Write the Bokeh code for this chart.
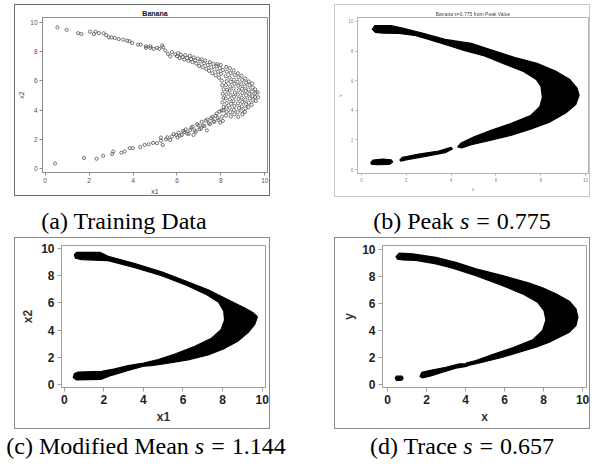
from bokeh.plotting import figure
from bokeh.layouts import row, column
from bokeh.models import Div, Range1d, FixedTicker
from bokeh.embed import file_html
from bokeh.resources import INLINE

TICKS = [0, 2, 4, 6, 8, 10]

# ---- (a) banana training sample --------------------------------------------
upper_x1 = [0.56, 0.98, 1.50, 1.65, 2.04, 2.22, 2.29, 2.45, 2.66, 2.78, 2.90, 3.02,
            3.17, 3.35, 3.55, 3.73, 3.84, 3.96, 4.23, 4.35, 4.59, 4.59, 4.79, 4.79,
            4.94, 5.09, 5.19, 5.32, 5.36, 5.47, 5.59, 5.69, 5.77, 5.92,
            6.00, 6.05, 6.12, 6.18, 6.26, 6.33, 6.38, 6.46, 6.52, 6.58, 6.64, 6.70,
            6.76, 6.83, 6.88, 6.95, 7.01, 7.06, 7.12, 7.17, 7.23, 7.29, 7.33, 7.40,
            7.46, 7.50, 7.56, 7.61, 7.66, 7.71, 7.76, 7.80, 7.84, 7.87, 7.91, 7.95,
            7.99, 8.01, 8.04, 8.06]
upper_x2 = [9.64, 9.48, 9.25, 9.19, 9.35, 9.19, 9.35, 9.26, 9.24, 9.12, 8.96, 8.96,
            8.92, 8.85, 8.81, 8.74, 8.70, 8.58, 8.47, 8.47, 8.36, 8.25, 8.36, 8.25,
            8.18, 8.25, 8.18, 8.41, 8.29, 8.07, 7.84, 7.67, 7.96, 7.80,
            7.68, 7.88, 7.55, 7.78, 7.62, 7.45, 7.76, 7.55, 7.36, 7.70, 7.48, 7.28,
            7.60, 7.40, 7.18, 7.52, 7.02, 7.33, 7.47, 6.92, 7.20, 7.38, 6.82, 7.08,
            6.68, 7.28, 6.93, 6.52, 7.16, 6.78, 6.38, 7.02, 7.14, 6.62, 6.22, 6.88,
            7.08, 6.47, 6.02, 5.70]

tip_x1 = [8.09, 8.12, 8.08, 8.11, 8.07, 8.13, 8.10,
          8.24, 8.27, 8.22, 8.26, 8.23, 8.28, 8.25, 8.22, 8.27, 8.24, 8.26, 8.23,
          8.41, 8.44, 8.40, 8.45, 8.42, 8.39, 8.44, 8.41, 8.46, 8.40, 8.43, 8.45,
          8.58, 8.62, 8.59, 8.61, 8.57, 8.63, 8.60, 8.58, 8.62, 8.59, 8.61,
          8.77, 8.80, 8.76, 8.79, 8.81, 8.77, 8.80, 8.78, 8.82, 8.76, 8.79,
          8.94, 8.97, 8.93, 8.96, 8.98, 8.94, 8.97, 8.95, 8.93, 8.98,
          9.11, 9.14, 9.10, 9.13, 9.15, 9.11, 9.14, 9.12, 9.09,
          9.27, 9.30, 9.26, 9.29, 9.31, 9.27, 9.25,
          9.42, 9.45, 9.41, 9.44, 9.46, 9.40,
          9.56, 9.58, 9.55, 9.59,
          9.67, 9.69]
tip_x2 = [6.74, 5.42, 5.12, 4.83, 4.52, 4.21, 3.98,
          6.95, 6.62, 6.31, 5.98, 5.71, 5.39, 5.08, 4.79, 4.48, 4.18, 3.88, 3.63,
          6.86, 6.53, 6.22, 5.93, 5.62, 5.33, 5.04, 4.74, 4.44, 4.16, 3.86, 3.57,
          6.71, 6.41, 6.08, 5.79, 5.48, 5.19, 4.91, 4.61, 4.29, 4.01, 3.72,
          6.52, 6.24, 5.94, 5.66, 5.36, 5.06, 4.76, 4.46, 4.16, 3.86, 3.55,
          6.36, 6.06, 5.77, 5.46, 5.16, 4.86, 4.56, 4.26, 3.96, 3.71,
          6.16, 5.89, 5.61, 5.31, 5.01, 4.71, 4.41, 4.11, 3.88,
          5.96, 5.71, 5.41, 5.11, 4.81, 4.51, 4.21,
          5.81, 5.54, 5.26, 4.96, 4.66, 4.37,
          5.42, 5.18, 4.91, 4.62,
          5.21, 4.88]

lower_x1 = [0.45, 1.77, 2.34, 2.64, 3.05, 3.10, 3.47, 3.62, 3.85, 3.99, 4.33, 4.53,
            4.71, 4.91, 5.09, 5.27, 5.27, 5.35, 5.50, 5.56, 5.69, 5.77, 5.85,
            5.97, 6.02, 6.07, 6.13, 6.22, 6.28, 6.34, 6.40, 6.46, 6.53, 6.60, 6.65,
            6.72, 6.75, 6.81, 6.86, 6.92, 6.98, 7.03, 7.10, 7.13, 7.19, 7.25, 7.31,
            7.36, 7.39, 7.45, 7.51, 7.55, 7.61, 7.66, 7.70, 7.75, 7.81, 7.85, 7.89,
            7.93, 7.97, 8.02, 8.05, 8.09]
lower_x2 = [0.36, 0.74, 0.69, 0.89, 1.01, 1.18, 1.10, 1.18, 1.41, 1.41, 1.48, 1.63,
            1.68, 1.77, 1.75, 2.13, 1.92, 1.63, 2.02, 2.15, 1.97, 2.20, 2.37,
            2.31, 2.15, 2.47, 2.26, 2.31, 2.58, 2.52, 2.69, 2.41, 2.38, 2.65, 2.81,
            2.87, 2.31, 2.60, 2.53, 3.04, 2.97, 2.70, 2.76, 3.21, 2.95, 2.91, 3.29,
            2.62, 3.36, 3.10, 3.05, 3.45, 3.54, 3.26, 3.20, 3.62, 3.77, 3.46, 3.33,
            3.90, 3.15, 3.98, 3.56, 3.27]

train_x1 = upper_x1 + tip_x1 + lower_x1
train_x2 = upper_x2 + tip_x2 + lower_x2

# ---- (b) peak-bandwidth level set: outlines of the filled regions -----------
peak_main_x = [0.48, 0.59, 1.32, 1.83, 2.71, 3.73, 4.90, 5.78, 6.95, 7.83, 8.71, 9.30,
               9.62, 9.71, 9.56, 9.15, 8.42, 7.54, 6.66, 5.78, 4.90, 4.47, 4.29, 4.44,
               5.05, 5.78, 6.66, 7.54, 7.95, 8.07, 8.01, 7.80, 7.25, 6.37, 5.49, 4.61,
               3.73, 3.00, 2.42, 1.68, 0.95, 0.63]
peak_main_y = [9.47, 9.72, 9.72, 9.56, 9.22, 8.79, 8.52, 8.09, 7.52, 7.18, 6.61, 6.08,
               5.49, 5.02, 4.39, 3.86, 3.22, 2.73, 2.31, 1.99, 1.67, 1.46, 1.53, 1.78,
               2.22, 2.65, 3.11, 3.64, 4.22, 4.85, 5.61, 6.08, 6.61, 7.14, 7.67, 8.03,
               8.45, 8.79, 9.05, 9.19, 9.22, 9.26]
peak_mid_x = [1.71, 1.83, 2.56, 3.44, 4.00, 4.06, 3.73, 2.86, 1.98, 1.76]
peak_mid_y = [0.64, 0.83, 1.04, 1.25, 1.50, 1.38, 1.14, 0.89, 0.64, 0.57]
peak_end_x = [0.41, 0.51, 0.95, 1.32, 1.39, 1.24, 0.66, 0.44]
peak_end_y = [0.47, 0.64, 0.70, 0.66, 0.51, 0.34, 0.32, 0.36]

# ---- (c) modified-mean level set -----------------------------------------
mean_x = [0.51, 0.62, 1.80, 2.22, 3.57, 4.92, 6.01, 7.27, 8.28, 9.12, 9.55, 9.76,
          9.63, 9.29, 8.79, 8.11, 7.27, 6.26, 5.25, 4.41, 4.01, 3.23, 2.39, 1.85,
          0.62, 0.45, 0.51, 0.71, 1.89, 2.56, 3.23, 4.01, 4.75, 5.59, 6.60, 7.44,
          7.92, 8.10, 8.06, 7.80, 7.20, 6.20, 4.92, 3.57, 2.22, 0.88, 0.57]
mean_y = [9.56, 9.73, 9.73, 9.44, 8.91, 8.30, 7.69, 6.97, 6.24, 5.63, 5.27, 4.98,
          4.42, 3.81, 3.20, 2.65, 2.16, 1.80, 1.55, 1.38, 1.33, 1.02, 0.66, 0.36,
          0.32, 0.49, 0.78, 0.90, 0.95, 1.14, 1.38, 1.57, 1.82, 2.22, 2.80, 3.40,
          4.02, 4.72, 5.39, 6.05, 6.60, 7.30, 8.02, 8.60, 9.12, 9.20, 9.30]

# ---- (d) trace level set --------------------------------------------------
trace_main_x = [0.43, 0.60, 1.28, 2.48, 3.50, 4.53, 5.90, 7.26, 7.95, 8.63, 9.32, 9.66,
                9.76, 9.66, 9.32, 8.80, 8.29, 7.61, 6.75, 5.90, 4.87, 4.15, 4.02, 4.53,
                5.38, 6.41, 7.44, 7.95, 8.12, 8.02, 7.69, 6.92, 5.90, 4.53, 3.33, 2.48,
                1.45, 0.77, 0.51]
trace_main_y = [9.48, 9.73, 9.68, 9.43, 9.06, 8.57, 8.07, 7.51, 7.16, 6.72, 6.17, 5.60,
                4.99, 4.37, 3.88, 3.51, 3.14, 2.77, 2.40, 2.02, 1.65, 1.41, 1.58, 1.78,
                2.22, 2.72, 3.31, 4.00, 4.79, 5.48, 6.10, 6.72, 7.33, 8.07, 8.62, 8.94,
                9.19, 9.23, 9.28]
trace_mid_x = [1.66, 1.76, 2.14, 2.99, 3.68, 4.05, 4.10, 3.50, 2.82, 2.22, 1.79]
trace_mid_y = [0.59, 0.91, 1.04, 1.28, 1.53, 1.53, 1.36, 1.21, 0.91, 0.64, 0.49]
trace_end_x = [0.39, 0.46, 0.74, 0.80, 0.70, 0.46]
trace_end_y = [0.47, 0.62, 0.62, 0.44, 0.30, 0.30]

EQ = '<span style="margin:0 7px;">=</span>'
captions = ["(a) Training Data", f"(b) Peak <i>s</i>{EQ}0.775",
            f"(c) Modified Mean <i>s</i>{EQ}1.144", f"(d) Trace <i>s</i>{EQ}0.657"]


def panel(w, h, xr, yr, border, outer_css, frame_color, tick_px, tick_style, tick_color,
          lab_px, lab_style, lab_color, xlabel, ylabel, tick_len, standoff, lab_standoff,
          margin):
    left, right, top, bottom = border
    p = figure(width=w, height=h, x_range=Range1d(*xr), y_range=Range1d(*yr),
               output_backend="svg", toolbar_location=None,
               min_border_left=left, min_border_right=right,
               min_border_top=top, min_border_bottom=bottom,
               styles=outer_css, margin=margin)
    p.grid.visible = False
    p.outline_line_color = frame_color
    p.outline_line_width = 1
    for ax, lab in ((p.xaxis[0], xlabel), (p.yaxis[0], ylabel)):
        ax.ticker = FixedTicker(ticks=TICKS)
        ax.axis_line_color = frame_color
        ax.major_tick_line_color = frame_color
        ax.major_tick_in = 0
        ax.major_tick_out = tick_len
        ax.minor_tick_line_color = None
        ax.major_label_standoff = standoff
        ax.major_label_text_font = "Liberation Sans"
        ax.major_label_text_font_size = f"{tick_px}px"
        ax.major_label_text_font_style = tick_style
        ax.major_label_text_color = tick_color
        ax.axis_label = lab
        ax.axis_label_standoff = lab_standoff
        ax.axis_label_text_font = "Liberation Sans"
        ax.axis_label_text_font_size = f"{lab_px}px"
        ax.axis_label_text_font_style = lab_style
        ax.axis_label_text_color = lab_color
    return p


# (a) scatter of the training points
pa = panel(256, 192, (-0.12, 10.12), (-0.25, 10.32), (26, 4, 12, 23),
           {"border": "1px solid #6e6e6e"}, "#8c8c8c", 6.5, "normal", "#555555",
           7, "normal", "#444444", "x1", "x2", 3, 2, 2, (4, 0, 0, 14))
pa.title.text = "Banana"
pa.title.align = "center"
pa.title.text_font = "Liberation Sans"
pa.title.text_font_size = "7px"
pa.title.text_font_style = "bold"
pa.title.text_color = "#111111"
pa.title.standoff = 1
pa.scatter(train_x1, train_x2, marker="circle", size=3.2, fill_color=None,
           line_color="#4a4a4a", line_width=0.75)

# (b) peak bandwidth
pb = panel(256, 193, (-0.18, 10.13), (-0.27, 10.27), (18, 3, 10, 17),
           {"border": "1px solid #c8c8c8", "filter": "blur(0.6px)"}, "#b4b4b4", 4.5,
           "normal", "#8a8a8a", 4.5, "normal", "#8a8a8a", "x", "y", 2, 2, 2,
           (4, 0, 0, 64))
pb.title.text = "Banana s=0.775 from Peak Value"
pb.title.align = "center"
pb.title.text_font = "Liberation Sans"
pb.title.text_font_size = "5px"
pb.title.text_font_style = "normal"
pb.title.text_color = "#444444"
pb.title.standoff = 1
pb.patches([peak_main_x, peak_mid_x, peak_end_x], [peak_main_y, peak_mid_y, peak_end_y],
           fill_color="black", line_color="black", line_width=1.2)

# (c) modified mean bandwidth
pc = panel(256, 192, (-0.14, 10.17), (-0.24, 10.24), (46, 6, 7, 41),
           {"border": "1px solid #8c8c8c"}, "#a0a0a0", 12, "bold", "#222222",
           12, "bold", "#333333", "x1", "x2", 4, 3, 3, (0, 0, 0, 14))
pc.patch(mean_x, mean_y, fill_color="black", line_color="black", line_width=1.2)

# (d) trace bandwidth
pd_ = panel(256, 192, (-0.26, 10.2), (-0.22, 10.30), (47, 5, 7, 43),
            {"border": "1px solid #8c8c8c"}, "#a0a0a0", 12, "bold", "#222222",
            12, "bold", "#333333", "x", "y", 4, 3, 3, (0, 0, 0, 64))
pd_.patches([trace_main_x, trace_mid_x, trace_end_x],
            [trace_main_y, trace_mid_y, trace_end_y],
            fill_color="black", line_color="black", line_width=1.2)


def caption_row(left_text, left_cx, right_text, right_cx, top, h):
    style = ("position:absolute;white-space:nowrap;transform:translateX(-50%);"
             f"top:{top}px;")
    html = (f'<div style="position:relative;width:606px;height:{h}px;'
            'font-family:\'Liberation Serif\',\'Times New Roman\',serif;'
            'font-size:24px;color:#000;overflow:hidden;">'
            f'<span style="{style}left:{left_cx}px;">{left_text}</span>'
            f'<span style="{style}left:{right_cx}px;">{right_text}</span></div>')
    return Div(text=html, width=606, height=h, margin=(0, 0, 0, 0))


cap_top = caption_row(captions[0], 124, captions[1], 462, 7, 40)
cap_bot = caption_row(captions[2], 146, captions[3], 462, 0, 38)

layout = column(row(pa, pb, spacing=0), cap_top, row(pc, pd_, spacing=0), cap_bot,
                spacing=0)

open("out.html", "w").write(file_html(layout, INLINE))
